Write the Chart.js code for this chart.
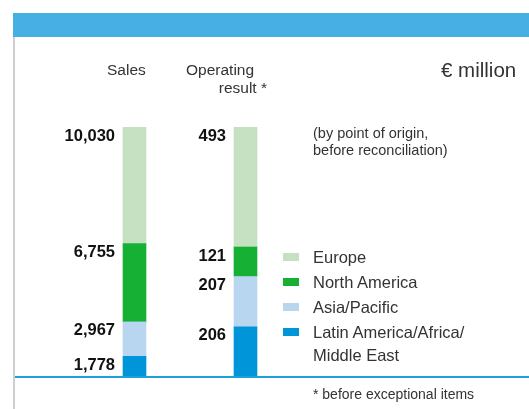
<!DOCTYPE html>
<html>
<head>
<meta charset="utf-8">
<script src="https://cdn.jsdelivr.net/npm/chart.js@4.4.1/dist/chart.umd.min.js"></script>
<style>
  html, body { margin: 0; padding: 0; background: #fff; }
  body { width: 529px; height: 409px; position: relative; overflow: hidden;
         font-family: "Liberation Sans", Arial, sans-serif; color: #333; }
  #band { position: absolute; left: 13px; top: 13px; width: 516px; height: 24px; background: #48afe5; }
  #edge { position: absolute; left: 13px; top: 37px; width: 2px; height: 372px; background: #cfcfcf; }
  #base { position: absolute; left: 15px; top: 376px; width: 514px; height: 1.5px; background: #1e9fdc; }
  #wrap { position: absolute; left: 0; top: 0; width: 529px; height: 409px; }
  .t { position: absolute; white-space: nowrap; line-height: 1; }
  #legend { position: absolute; left: 283px; top: 245px; }
  .item { position: relative; height: 25px; }
  .sw { position: absolute; left: 0; top: 8px; width: 16px; height: 8px; }
  .lab { position: absolute; left: 30px; top: 1px; font-size: 16.5px; line-height: 23px; white-space: nowrap; }
</style>
</head>
<body>
<div id="band"></div>
<div id="edge"></div>
<div id="wrap"><canvas id="chart" width="529" height="409"></canvas></div>
<div id="base"></div>

<div class="t" style="left:107px; top:62px; font-size:15.5px;">Sales</div>
<div class="t" style="left:186px; top:62px; font-size:15.5px;">Operating</div>
<div class="t" style="left:216px; top:80px; font-size:15.5px; width:51px; text-align:right;">result *</div>
<div class="t" style="left:441px; top:60px; font-size:20.5px;">€ million</div>
<div class="t" style="left:313px; top:125px; font-size:14.5px; line-height:17px;">(by point of origin,<br>before reconciliation)</div>
<div id="legend"></div>
<div class="t" style="left:313px; top:387px; font-size:14px;">* before exceptional items</div>

<script>
const categories = ['Sales', 'Operating result'];
const regions = ['Latin America/Africa/Middle East', 'Asia/Pacific', 'North America', 'Europe'];
const legendNames = ['Latin America/Africa/\nMiddle East', 'Asia/Pacific', 'North America', 'Europe'];
const salesValues = [1778, 2967, 6755, 10030];
const operatingValues = [206, 207, 121, 493];
const regionColors = ['#0095d9', '#b8d6ef', '#16b035', '#c5e1c1'];

const columns = [salesValues, operatingValues];
const totals = columns.map(col => col.reduce((a, b) => a + b, 0));

const datasets = regions.map((name, i) => ({
  label: name,
  data: columns.map((col, c) => col[i] / totals[c] * 100),
  raw: columns.map(col => col[i]),
  backgroundColor: regionColors[i],
  borderWidth: 0,
  barThickness: 23
}));

// value labels left of each segment, near its top
const valueLabels = {
  id: 'valueLabels',
  afterDatasetsDraw(chart) {
    const ctx = chart.ctx;
    ctx.save();
    ctx.font = 'bold 16.5px "Liberation Sans", Arial, sans-serif';
    ctx.fillStyle = '#111';
    ctx.textAlign = 'right';
    ctx.textBaseline = 'middle';
    chart.data.datasets.forEach((ds, i) => {
      chart.getDatasetMeta(i).data.forEach((bar, j) => {
        const txt = ds.raw[j].toLocaleString('en-US');
        ctx.fillText(txt, bar.x - bar.width / 2 - 8, bar.y + 9);
      });
    });
    ctx.restore();
  }
};

const chart = new Chart(document.getElementById('chart'), {
  type: 'bar',
  data: { labels: categories, datasets: datasets },
  options: {
    responsive: false,
    animation: false,
    layout: { padding: { left: 79, right: 228, top: 127, bottom: 32 } },
    plugins: { legend: { display: false }, tooltip: { enabled: false } },
    scales: {
      x: { display: false, stacked: true },
      y: { display: false, stacked: true, min: 0, max: 100 }
    }
  },
  plugins: [valueLabels]
});

// legend, top item = top segment
const legend = document.getElementById('legend');
for (let i = regions.length - 1; i >= 0; i--) {
  const item = document.createElement('div');
  item.className = 'item';
  const sw = document.createElement('div');
  sw.className = 'sw';
  sw.style.background = regionColors[i];
  const lab = document.createElement('div');
  lab.className = 'lab';
  lab.innerHTML = legendNames[i].replace('\n', '<br>');
  item.appendChild(sw);
  item.appendChild(lab);
  legend.appendChild(item);
}
</script>
</body>
</html>
